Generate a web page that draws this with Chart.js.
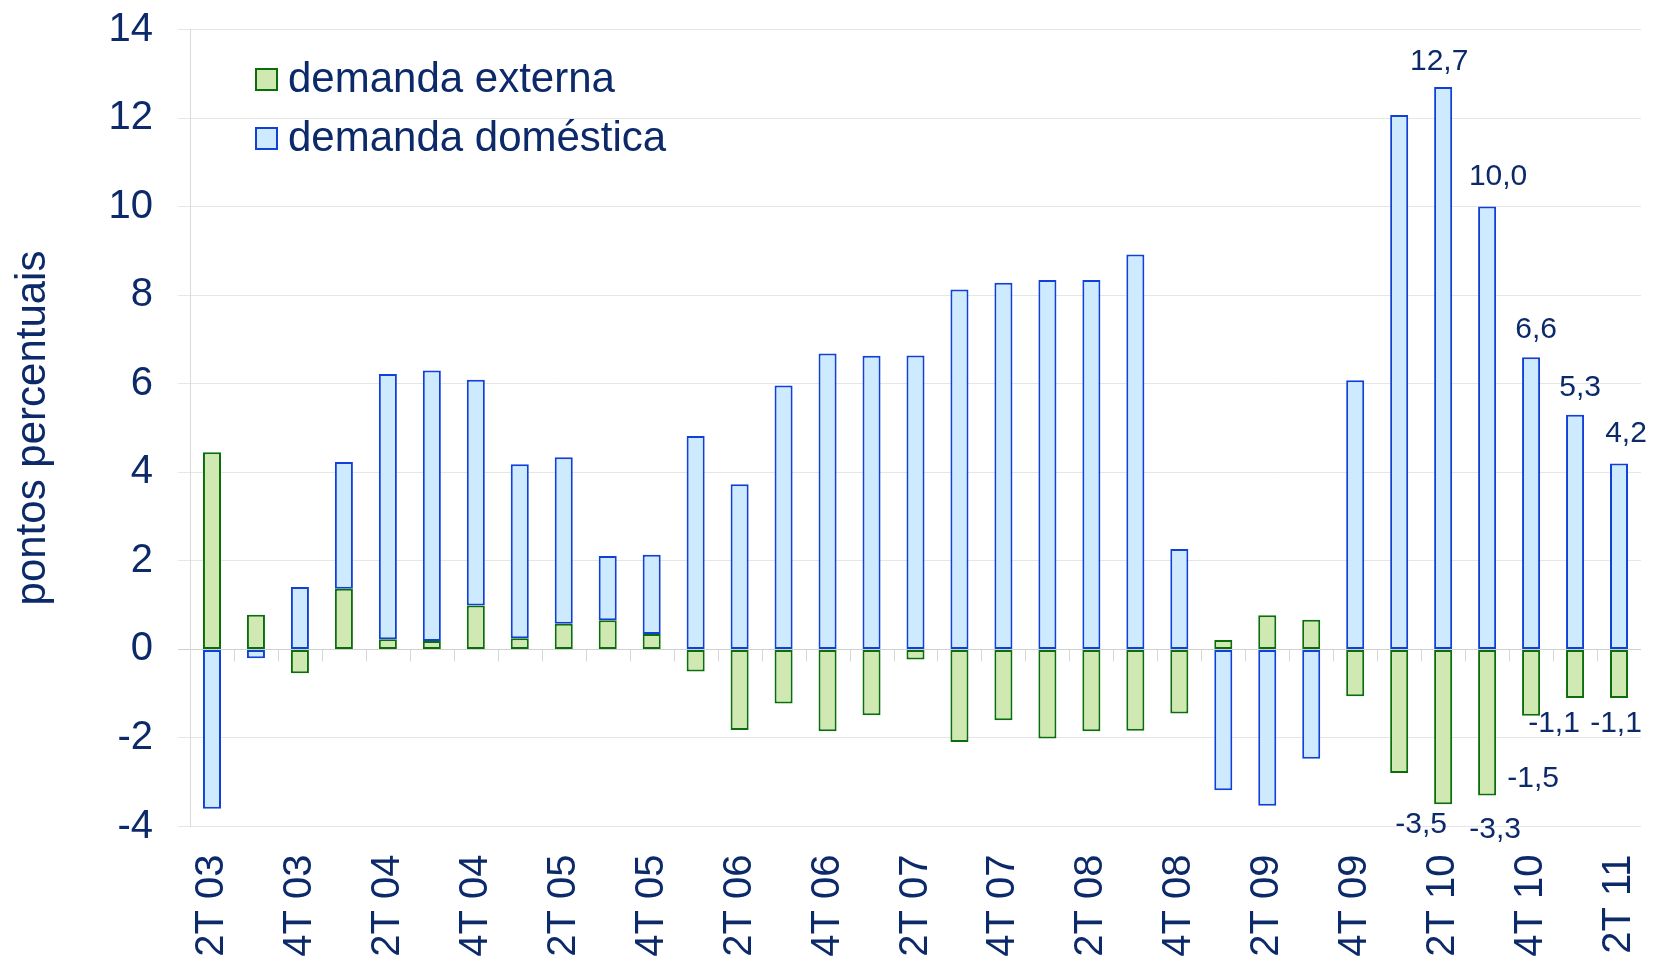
<!DOCTYPE html>
<html>
<head>
<meta charset="utf-8">
<script src="https://cdn.jsdelivr.net/npm/chart.js@4.4.1/dist/chart.umd.min.js"></script>
<style>
html, body { margin: 0; padding: 0; background: #fff; }
</style>
</head>
<body>
<canvas id="myChart" width="1653" height="964"></canvas>
<script>
// quarters, 2T 03 .. 2T 11
var quarters = ['2T 03','3T 03','4T 03',
  '1T 04','2T 04','3T 04','4T 04',
  '1T 05','2T 05','3T 05','4T 05',
  '1T 06','2T 06','3T 06','4T 06',
  '1T 07','2T 07','3T 07','4T 07',
  '1T 08','2T 08','3T 08','4T 08',
  '1T 09','2T 09','3T 09','4T 09',
  '1T 10','2T 10','3T 10','4T 10',
  '1T 11','2T 11'];

var externa = [4.45, 0.78, -0.54,
  1.37, 0.23, 0.19, 0.99,
  0.25, 0.58, 0.66, 0.35,
  -0.50, -1.82, -1.22, -1.85,
  -1.49, -0.23, -2.09, -1.60,
  -2.01, -1.85, -1.84, -1.45,
  0.21, 0.77, 0.67, -1.06,
  -2.79, -3.5, -3.3, -1.5,
  -1.1, -1.1];

// stacked on top of externa when both are positive
var domestica = [-3.60, -0.20, 1.41,
  2.86, 5.99, 6.11, 5.10,
  3.93, 3.76, 1.45, 1.79,
  4.82, 3.73, 5.96, 6.68,
  6.63, 6.64, 8.13, 8.28,
  8.34, 8.34, 8.92, 2.27,
  -3.18, -3.53, -2.47, 6.08,
  12.07, 12.7, 10.0, 6.6,
  5.3, 4.2];

var labeled = ['2T 10','3T 10','4T 10','1T 11','2T 11'];

var textColor = '#0c2a6a';
var family = '"Liberation Sans", Arial, sans-serif';
Chart.defaults.font.family = family;

function fmt(v) { return v.toFixed(1).replace('.', ','); }

// label placement relative to bar end (dx, dy)
var topOff = [[-4,-25],[11,-30],[5,-27],[5,-27],[7,-30]];
var botOff = [[-22,20],[8,34],[2,63],[-21,26],[-3,26]];

var zeroTicks = {
  id: 'zeroTicks',
  beforeDatasetsDraw: function(chart) {
    var ctx = chart.ctx, x = chart.scales.x, y = chart.scales.y;
    var y0 = Math.round(y.getPixelForValue(0)) + 0.5;
    ctx.save();
    ctx.strokeStyle = '#d6d6d6';
    ctx.lineWidth = 1;
    ctx.beginPath();
    for (var i = 0; i < quarters.length - 1; i++) {
      var px = Math.round((x.getPixelForValue(i) + x.getPixelForValue(i + 1)) / 2) + 0.5;
      ctx.moveTo(px, y0);
      ctx.lineTo(px, y0 + 12);
    }
    ctx.stroke();
    ctx.restore();
  }
};

var valueLabels = {
  id: 'valueLabels',
  afterDatasetsDraw: function(chart) {
    var ctx = chart.ctx;
    var green = chart.getDatasetMeta(0).data;
    var blue = chart.getDatasetMeta(1).data;
    ctx.save();
    ctx.font = '30px ' + family;
    ctx.fillStyle = textColor;
    ctx.textAlign = 'center';
    ctx.textBaseline = 'middle';
    labeled.forEach(function(q, k) {
      var i = quarters.indexOf(q);
      ctx.fillText(fmt(domestica[i]), blue[i].x + topOff[k][0], blue[i].y + topOff[k][1]);
      ctx.fillText(fmt(externa[i]), green[i].x + botOff[k][0], green[i].y + botOff[k][1]);
    });
    ctx.restore();
  }
};

var legendBox = {
  id: 'legendBox',
  afterDraw: function(chart) {
    var ctx = chart.ctx;
    ctx.save();
    ctx.font = '42px ' + family;
    ctx.textBaseline = 'middle';
    chart.data.datasets.forEach(function(ds, k) {
      var y = 79 + k * 59;
      ctx.fillStyle = ds.backgroundColor;
      ctx.fillRect(256, y - 10, 21, 21);
      ctx.strokeStyle = ds.borderColor;
      ctx.lineWidth = 2;
      ctx.strokeRect(256, y - 10, 21, 21);
      ctx.fillStyle = textColor;
      ctx.fillText(ds.label, 288, y + 1);
    });
    ctx.restore();
  }
};

new Chart('myChart', {
  type: 'bar',
  data: {
    labels: quarters,
    datasets: [{
      label: 'demanda externa',
      data: externa,
      backgroundColor: '#d0e9b2',
      borderColor: '#0a6e0a',
      borderWidth: 2,
      borderSkipped: false,
      barPercentage: 0.41,
      categoryPercentage: 1.0
    }, {
      label: 'demanda doméstica',
      data: domestica,
      backgroundColor: '#cdeafe',
      borderColor: '#1040d8',
      borderWidth: 2,
      borderSkipped: false,
      barPercentage: 0.41,
      categoryPercentage: 1.0
    }]
  },
  options: {
    responsive: false,
    animation: false,
    layout: { padding: { top: 29.5, right: 12, left: 0, bottom: 0 } },
    plugins: {
      legend: { display: false },
      tooltip: { enabled: false }
    },
    scales: {
      x: {
        stacked: true,
        offset: true,
        grid: { display: true, color: 'rgba(0,0,0,0)', drawTicks: true, tickLength: 28 },
        border: { display: false },
        ticks: {
          autoSkip: false,
          minRotation: 90,
          maxRotation: 90,
          padding: 0,
          color: textColor,
          font: { size: 40 },
          callback: function(v, i) { return i % 2 === 0 ? quarters[i] : ''; }
        },
        afterFit: function(s) { s.height = 137.5; s.paddingLeft = 0; s.paddingRight = 0; s.paddingTop = 0; s.paddingBottom = 0; }
      },
      y: {
        stacked: true,
        min: -4,
        max: 14,
        ticks: { stepSize: 2, padding: 25, color: textColor, font: { size: 40 } },
        grid: {
          color: function(c) { return c.tick && c.tick.value === 0 ? '#d0d0d0' : '#e6e6e6'; },
          tickLength: 12
        },
        border: { color: '#d9d9d9' },
        title: {
          display: true,
          text: 'pontos percentuais',
          color: textColor,
          font: { size: 42 },
          padding: { top: 8, bottom: 0 }
        },
        afterFit: function(s) { s.width = 190; s.paddingTop = 0; s.paddingBottom = 0; s.paddingLeft = 0; s.paddingRight = 0; }
      }
    }
  },
  plugins: [zeroTicks, valueLabels, legendBox]
});
</script>
</body>
</html>
